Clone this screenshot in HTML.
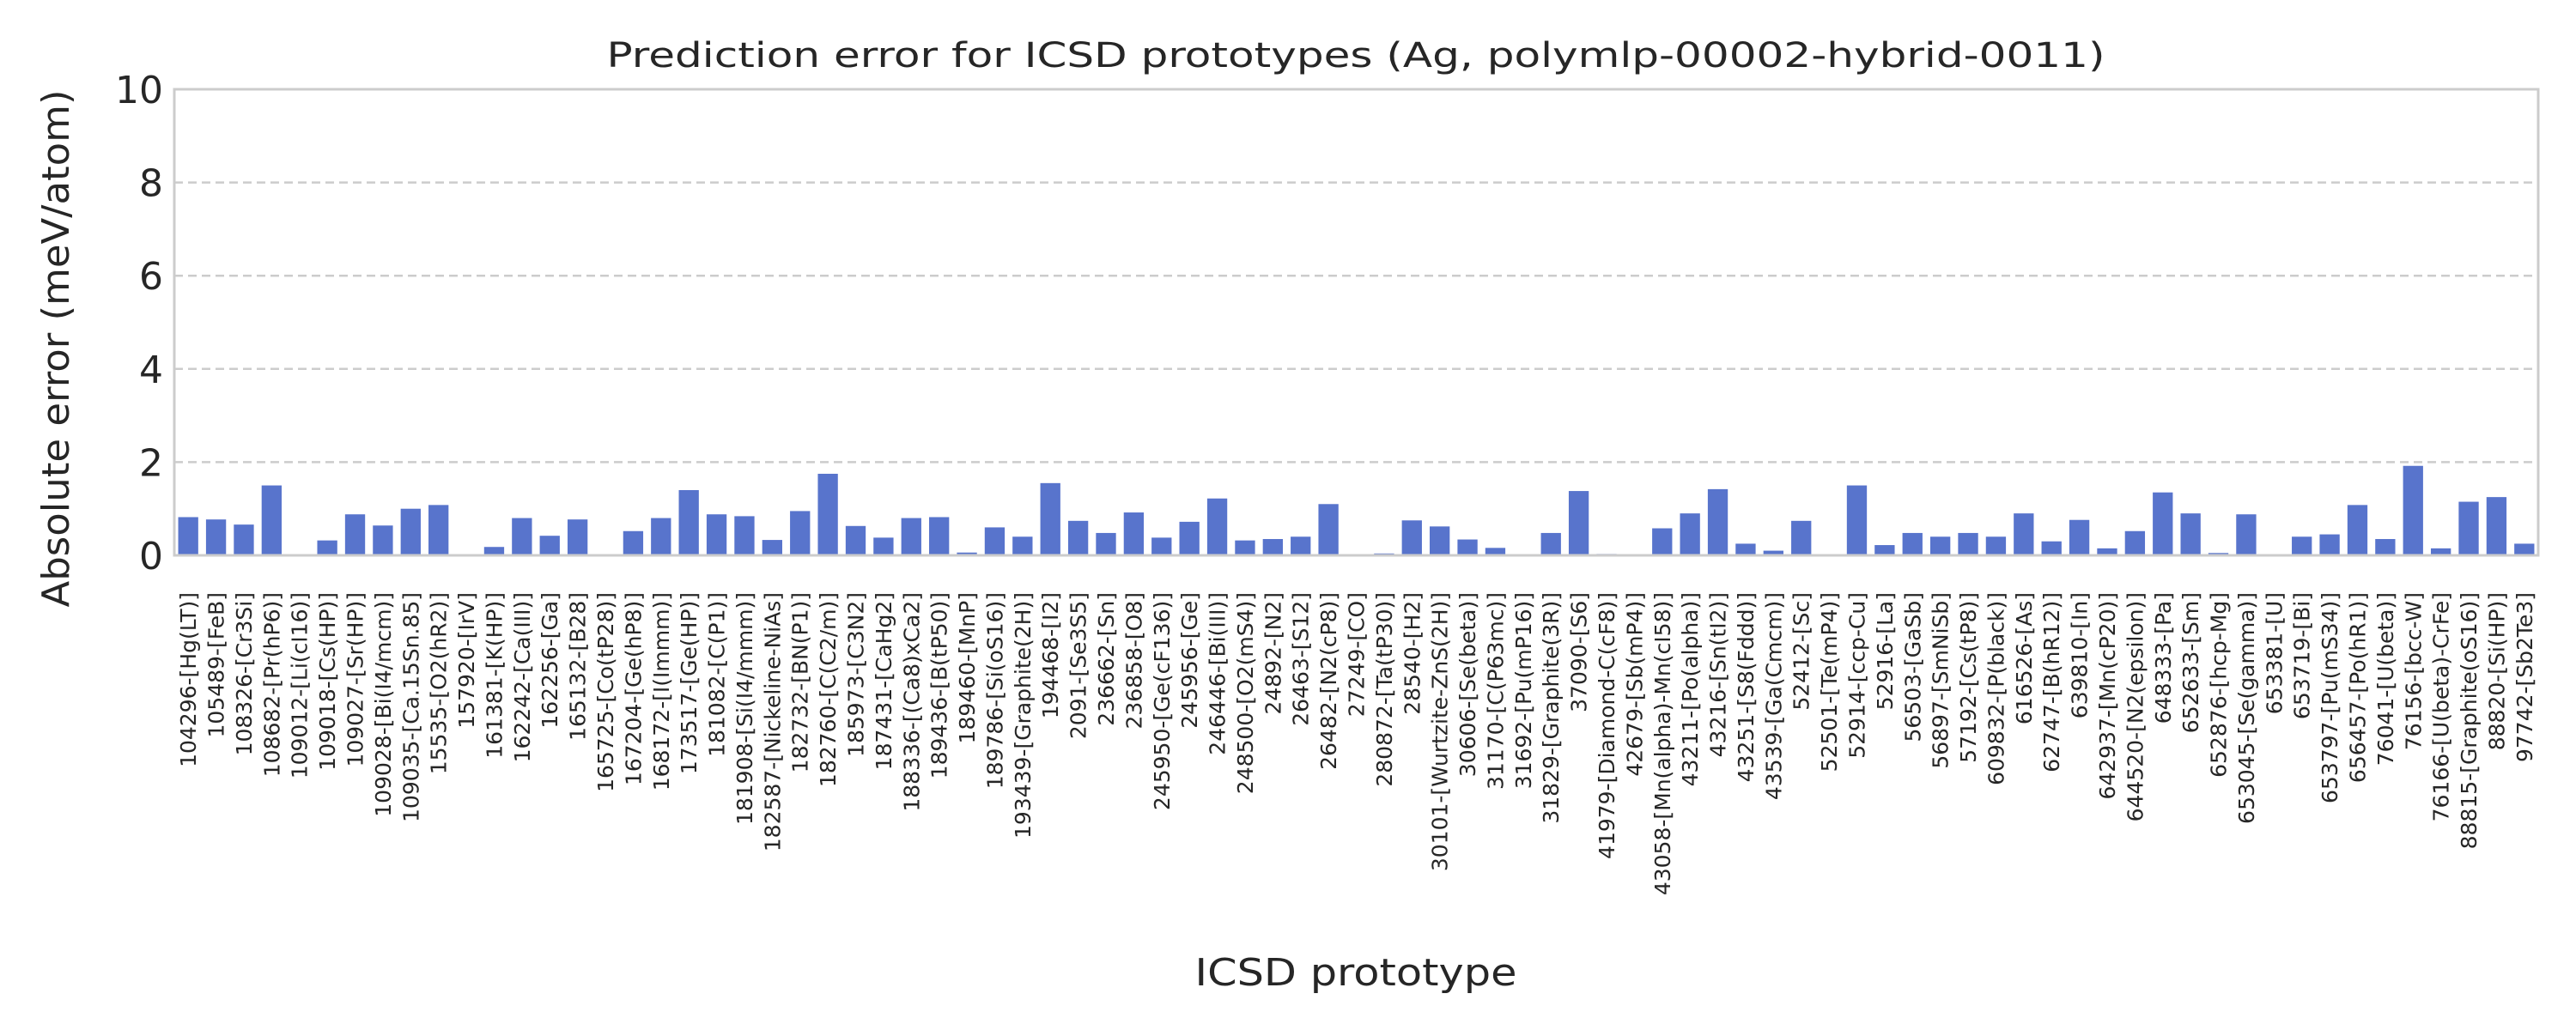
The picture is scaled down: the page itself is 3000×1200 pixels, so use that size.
<!DOCTYPE html>
<html><head><meta charset="utf-8"><style>
html,body{margin:0;padding:0;background:#fff;}
svg{display:block;}
text{font-family:"DejaVu Sans","Liberation Sans",sans-serif;fill:#262626;}
</style></head><body>
<svg id="chart" width="3000" height="1200" viewBox="0 0 3000 1200" xmlns="http://www.w3.org/2000/svg">
<rect x="0" y="0" width="3000" height="1200" fill="#fff"/>
<g id="grid"></g>
<g id="bars"></g>
<rect x="203" y="104" width="2753" height="543" fill="none" stroke="#cccccc" stroke-width="3"/>
<g id="yticks"></g>
<g id="xticks"></g>
<text x="1579" y="78" font-size="40" text-anchor="middle" textLength="1745" lengthAdjust="spacingAndGlyphs">Prediction error for ICSD prototypes (Ag, polymlp-00002-hybrid-0011)</text>
<text x="1579" y="1148" font-size="44" text-anchor="middle" textLength="375" lengthAdjust="spacingAndGlyphs">ICSD prototype</text>
<text transform="translate(80,406) rotate(-90)" font-size="44" text-anchor="middle" textLength="603" lengthAdjust="spacingAndGlyphs">Absolute error (meV/atom)</text>
</svg>
<script>
const categories = ["104296-[Hg(LT)]","105489-[FeB]","108326-[Cr3Si]","108682-[Pr(hP6)]","109012-[Li(cI16)]","109018-[Cs(HP)]","109027-[Sr(HP)]","109028-[Bi(I4/mcm)]","109035-[Ca.15Sn.85]","15535-[O2(hR2)]","157920-[IrV]","161381-[K(HP)]","162242-[Ca(III)]","162256-[Ga]","165132-[B28]","165725-[Co(tP28)]","167204-[Ge(hP8)]","168172-[I(Immm)]","173517-[Ge(HP)]","181082-[C(P1)]","181908-[Si(I4/mmm)]","182587-[Nickeline-NiAs]","182732-[BN(P1)]","182760-[C(C2/m)]","185973-[C3N2]","187431-[CaHg2]","188336-[(Ca8)xCa2]","189436-[B(tP50)]","189460-[MnP]","189786-[Si(oS16)]","193439-[Graphite(2H)]","194468-[I2]","2091-[Se3S5]","236662-[Sn]","236858-[O8]","245950-[Ge(cF136)]","245956-[Ge]","246446-[Bi(III)]","248500-[O2(mS4)]","24892-[N2]","26463-[S12]","26482-[N2(cP8)]","27249-[CO]","280872-[Ta(tP30)]","28540-[H2]","30101-[Wurtzite-ZnS(2H)]","30606-[Se(beta)]","31170-[C(P63mc)]","31692-[Pu(mP16)]","31829-[Graphite(3R)]","37090-[S6]","41979-[Diamond-C(cF8)]","42679-[Sb(mP4)]","43058-[Mn(alpha)-Mn(cI58)]","43211-[Po(alpha)]","43216-[Sn(tI2)]","43251-[S8(Fddd)]","43539-[Ga(Cmcm)]","52412-[Sc]","52501-[Te(mP4)]","52914-[ccp-Cu]","52916-[La]","56503-[GaSb]","56897-[SmNiSb]","57192-[Cs(tP8)]","609832-[P(black)]","616526-[As]","62747-[B(hR12)]","639810-[In]","642937-[Mn(cP20)]","644520-[N2(epsilon)]","648333-[Pa]","652633-[Sm]","652876-[hcp-Mg]","653045-[Se(gamma)]","653381-[U]","653719-[Bi]","653797-[Pu(mS34)]","656457-[Po(hR1)]","76041-[U(beta)]","76156-[bcc-W]","76166-[U(beta)-CrFe]","88815-[Graphite(oS16)]","88820-[Si(HP)]","97742-[Sb2Te3]"];
const errors = [0.82,0.77,0.66,1.5,0,0.32,0.88,0.64,1.0,1.08,0,0.18,0.8,0.42,0.77,0,0.52,0.8,1.4,0.88,0.84,0.33,0.95,1.75,0.63,0.38,0.8,0.82,0.06,0.6,0.4,1.55,0.74,0.48,0.92,0.38,0.72,1.22,0.32,0.35,0.4,1.1,0,0.04,0.75,0.62,0.34,0.16,0,0.48,1.38,0.03,0,0.58,0.9,1.42,0.25,0.1,0.74,0,1.5,0.22,0.48,0.4,0.48,0.4,0.9,0.3,0.76,0.15,0.52,1.35,0.9,0.05,0.88,0,0.4,0.45,1.08,0.35,1.92,0.15,1.15,1.25,0.25];
const yTicks = [0,2,4,6,8,10];

const NS = "http://www.w3.org/2000/svg";
const X0 = 203, X1 = 2956, Y0 = 647, Y1 = 104, YMAX = 10;
const band = (X1 - X0) / categories.length;
function xScale(i){ return X0 + band * i; }
function yScale(v){ return Y0 - (v / YMAX) * (Y0 - Y1); }

const grid = document.getElementById('grid');
const yt = document.getElementById('yticks');
yTicks.forEach(function(t){
  if (t > 0 && t < YMAX) {
    const l = document.createElementNS(NS,'line');
    l.setAttribute('x1', X0); l.setAttribute('x2', X1);
    l.setAttribute('y1', yScale(t)); l.setAttribute('y2', yScale(t));
    l.setAttribute('stroke', '#cccccc'); l.setAttribute('stroke-width', '2.5');
    l.setAttribute('stroke-dasharray', '10,6');
    
    
    grid.appendChild(l);
  }
  const tx = document.createElementNS(NS,'text');
  tx.setAttribute('x', 190); tx.setAttribute('y', yScale(t) + 16);
  tx.setAttribute('font-size', '44'); tx.setAttribute('text-anchor', 'end');
  tx.textContent = String(t);
  
  
  yt.appendChild(tx);
});

const bars = document.getElementById('bars');
const xt = document.getElementById('xticks');
categories.forEach(function(c, i){
  const v = errors[i];
  const bw = band * 0.72;
  const bx = xScale(i) + (band - bw) / 2;
  const r = document.createElementNS(NS,'rect');
  r.setAttribute('x', bx); r.setAttribute('width', bw);
  r.setAttribute('y', yScale(v)); r.setAttribute('height', Math.max(0, Y0 - yScale(v)));
  r.setAttribute('fill', '#5874cc');
  
  
  bars.appendChild(r);
  const cx = xScale(i) + band / 2 + 9;
  const tx = document.createElementNS(NS,'text');
  tx.setAttribute('transform', 'translate(' + cx + ',690) rotate(-90)');
  tx.setAttribute('font-size', '25'); tx.setAttribute('text-anchor', 'end');
  tx.textContent = c;
  
  
  xt.appendChild(tx);
});
</script>
</body></html>
